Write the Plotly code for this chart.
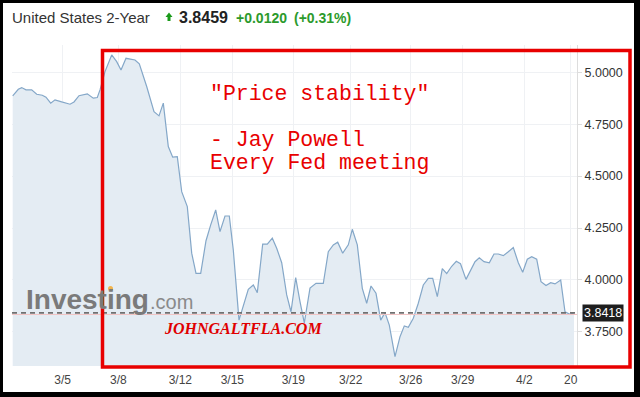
import plotly.graph_objects as go

W, H = 640, 397

# session time (chart units) and yield values
t = [0.0, 0.56, 0.9, 1.33, 1.9, 2.4, 2.96, 3.33, 3.8, 4.23, 4.9, 5.73, 6.13, 6.63, 7.46, 8.06, 8.46, 8.73,
     9.23, 9.9, 10.4, 10.83, 11.33, 11.83, 12.23, 12.66, 13.4, 14.13, 14.63, 15.06, 15.56, 16.0, 16.46, 16.9,
     17.46, 17.9, 18.33, 18.8, 19.33, 19.8, 20.3, 20.73, 21.23, 21.66, 22.06, 22.63, 23.13, 23.56, 24.06, 24.46,
     25.0, 25.46, 25.96, 26.4, 26.9, 27.4, 27.83, 28.3, 28.73, 29.16, 29.73, 30.33, 31.06, 31.56, 32.06, 32.5,
     33.0, 33.56, 33.96, 34.46, 34.96, 35.4, 35.83, 36.33, 36.8, 37.23, 37.66, 38.23, 38.73, 39.16, 39.56, 40.06,
     40.56, 41.06, 41.56, 42.0, 42.46, 42.96, 43.4, 43.9, 44.36, 44.78, 45.33, 45.8, 46.23, 46.66, 47.13, 47.66,
     48.13, 48.56, 49.06, 49.56, 50.06, 50.56, 51.0, 51.46, 51.9, 52.4, 52.83, 53.33, 53.8, 54.23, 54.8, 55.23,
     55.73, 56.13]
yields = [4.886, 4.918, 4.926, 4.915, 4.915, 4.894, 4.889, 4.880, 4.851, 4.867, 4.857, 4.846, 4.857, 4.887,
          4.896, 4.875, 4.878, 4.915, 5.003, 5.083, 5.051, 5.011, 5.067, 5.063, 5.059, 5.040, 4.931, 4.810,
          4.790, 4.851, 4.642, 4.591, 4.594, 4.425, 4.353, 4.129, 4.032, 4.032, 4.189, 4.265, 4.337, 4.233,
          4.308, 4.308, 4.144, 3.807, 3.888, 3.955, 3.976, 3.939, 4.173, 4.173, 4.201, 4.153, 4.083, 3.928,
          3.847, 4.011, 3.896, 3.793, 3.961, 3.984, 3.984, 4.136, 4.169, 4.182, 4.129, 4.169, 4.244, 4.169,
          3.960, 3.888, 3.971, 3.936, 3.807, 3.843, 3.783, 3.631, 3.727, 3.779, 3.772, 3.816, 3.888, 3.976,
          4.008, 4.008, 3.920, 4.055, 4.031, 4.066, 4.090, 4.078, 4.003, 4.048, 4.088, 4.107, 4.088, 4.083,
          4.125, 4.125, 4.117, 4.136, 4.156, 4.083, 4.037, 4.100, 4.112, 4.100, 3.992, 3.973, 3.987, 3.981,
          4.000, 3.847, 3.835, 3.842]

tick_pos = [5.0, 10.56, 16.76, 21.96, 28.06, 33.8, 39.8, 45.0, 51.16, 55.8]
tick_labels = ["3/5", "3/8", "3/12", "3/15", "3/19", "3/22", "3/26", "3/29", "4/2", "20"]
y_ticks = [3.75, 4.0, 4.25, 4.5, 4.75, 5.0]
last_price = 3.8418
prev_close = 3.834

title = "United States 2-Year"
quote = "3.8459"
change = "+0.0120"
change_pct = "(+0.31%)"


def px(x):
    return x / W


def py(y):
    return 1 - y / H


fig = go.Figure()
fig.add_trace(go.Scatter(
    x=t, y=yields, mode="lines", fill="tozeroy",
    line=dict(color="#84a7c8", width=1.2), fillcolor="#e4ecf3",
    hoverinfo="skip", showlegend=False))

x0, x1 = -0.07, 56.43
# previous close (pink) and last price (dashed)
fig.add_trace(go.Scatter(x=[x0, x1], y=[prev_close, prev_close], mode="lines",
                         line=dict(color="#f2c4c4", width=1), showlegend=False, hoverinfo="skip"))
fig.add_trace(go.Scatter(x=[x0, x1], y=[last_price, last_price], mode="lines",
                         line=dict(color="#707070", width=1.6, dash="5px,4px"), showlegend=False,
                         hoverinfo="skip"))

shapes = []
# red box
shapes.append(dict(type="rect", xref="paper", yref="paper", x0=px(102.5), x1=px(630), y0=py(367), y1=py(50.5),
                   line=dict(color="#e80000", width=3.5)))
# orange accent on logo
shapes.append(dict(type="circle", xref="paper", yref="paper", x0=px(108), x1=px(113), y0=py(291), y1=py(286),
                   fillcolor="#f5a623", line=dict(width=0), opacity=0.8))
# green arrow
shapes.append(dict(type="path", xref="paper", yref="paper",
                   path=f"M {px(165.5)} {py(17)} L {px(169)} {py(12.5)} L {px(172.5)} {py(17)} L {px(170.5)} {py(17)} "
                        f"L {px(170.5)} {py(21)} L {px(167.5)} {py(21)} L {px(167.5)} {py(17)} Z",
                   fillcolor="#1a9a1a", line=dict(width=0)))
# black frame
for (a, b, c, d) in [(0, 3, 0, H), (634, W, 0, H), (0, W, 0, 3), (0, W, 392, H)]:
    shapes.append(dict(type="rect", xref="paper", yref="paper", x0=px(a), x1=px(b), y0=py(d), y1=py(c),
                       fillcolor="black", line=dict(width=0)))

ann = []
ann.append(dict(text=title, x=px(10), y=py(17.5), xref="paper", yref="paper", xanchor="left", yanchor="middle",
                showarrow=False, font=dict(family="Arial, Liberation Sans", size=15, color="#333333")))
ann.append(dict(text=f"<b>{quote}</b>", x=px(177), y=py(17.5), xref="paper", yref="paper", xanchor="left",
                yanchor="middle", showarrow=False, font=dict(family="Arial, Liberation Sans", size=16, color="#222222")))
ann.append(dict(text=f"<b>{change}</b>", x=px(234), y=py(17.5), xref="paper", yref="paper", xanchor="left",
                yanchor="middle", showarrow=False, font=dict(family="Arial, Liberation Sans", size=14, color="#2c9a2c")))
ann.append(dict(text=f"<b>{change_pct}</b>", x=px(292), y=py(17.5), xref="paper", yref="paper", xanchor="left",
                yanchor="middle", showarrow=False, font=dict(family="Arial, Liberation Sans", size=14, color="#2c9a2c")))

mono = "Liberation Mono, Courier New, monospace"
for txt, yy in [('"Price stability"', 94), ("- Jay Powell", 140), ("Every Fed meeting", 163)]:
    ann.append(dict(text=txt, x=px(208), y=py(yy), xref="paper", yref="paper", xanchor="left",
                    yanchor="middle", showarrow=False, font=dict(family=mono, size=21.5, color="#e80000")))

ann.append(dict(text="<b><i>JOHNGALTFLA.COM</i></b>", x=px(162), y=py(328), xref="paper", yref="paper",
                xanchor="left", yanchor="middle", showarrow=False,
                font=dict(family="Liberation Serif, Times New Roman, serif", size=16, color="#e00000")))

ann.append(dict(text="<b>Investing</b>", x=px(24), y=py(299), xref="paper", yref="paper", xanchor="left",
                yanchor="middle", showarrow=False,
                font=dict(family="Arial, Liberation Sans", size=28, color="#7a7a7a")))
ann.append(dict(text=".com", x=px(148), y=py(302), xref="paper", yref="paper", xanchor="left",
                yanchor="middle", showarrow=False,
                font=dict(family="Arial, Liberation Sans", size=20, color="#8a8a8a")))

ann.append(dict(text=f"{last_price:.4f}", x=px(581.5), y=last_price, xref="paper", yref="y", xanchor="left",
                yanchor="middle", showarrow=False, bgcolor="#1e1e1e", borderpad=1,
                font=dict(family="Arial, Liberation Sans", size=12.5, color="white")))

fig.update_layout(
    width=W, height=H, margin=dict(l=0, r=0, t=0, b=0),
    paper_bgcolor="white", plot_bgcolor="white",
    shapes=shapes, annotations=ann, showlegend=False,
    xaxis=dict(domain=[px(12), px(577)], range=[x0, x1], tickvals=tick_pos, ticktext=tick_labels,
               showgrid=True, gridcolor="#eff1f4", gridwidth=1, zeroline=False, showline=False,
               ticks="", automargin=False, ticklabelstandoff=5,
               tickfont=dict(family="Arial, Liberation Sans", size=12, color="#444444")),
    yaxis=dict(domain=[py(366), py(45)], range=[3.586, 5.131], side="right", tickvals=y_ticks,
               tickformat=".4f", showgrid=True, gridcolor="#eff1f4", zeroline=False,
               showline=True, linecolor="#dddddd", linewidth=1, ticks="outside", ticklen=4,
               tickcolor="#dddddd", automargin=False,
               tickfont=dict(family="Arial, Liberation Sans", size=12.5, color="#333333")),
)

fig.write_html("out.html", config={"displayModeBar": False},
               post_script="document.body.style.margin='0';document.body.style.overflow='hidden';")
